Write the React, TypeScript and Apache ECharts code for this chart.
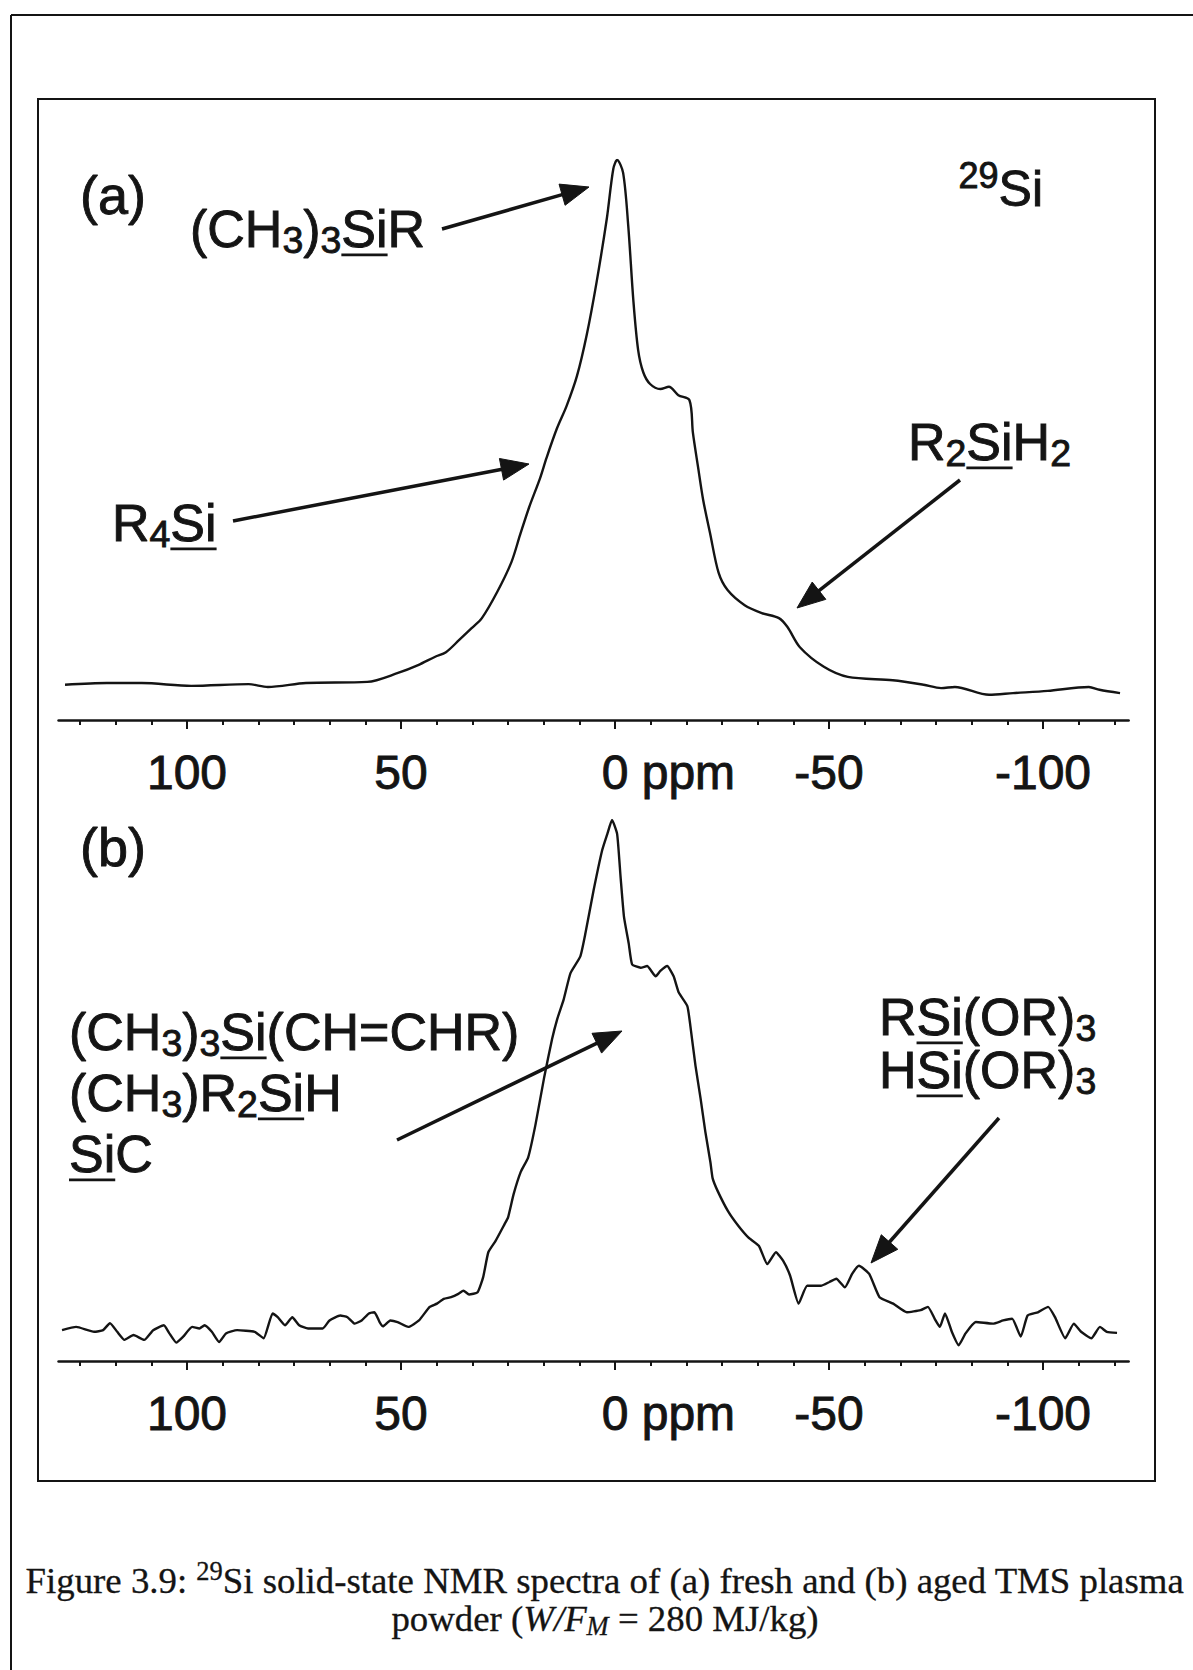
import React, { useEffect, useRef } from 'react';
import * as echarts from 'echarts';

// ---------- data ----------
const PPM_MIN = -120;
const PPM_MAX = 130;
const majorTicks = [100, 50, 0, -50, -100];
const minorTicks = [125, 116.67, 108.33, 91.67, 83.33, 75, 66.67, 58.33, 41.67, 33.33, 25, 16.67, 8.33,
  -8.33, -16.67, -25, -33.33, -41.67, -58.33, -66.67, -75, -83.33, -91.67, -108.33, -116.67];

// (a) fresh powder: chemical shift (ppm) and relative intensity
const ppmA = [128.5, 118.7, 110.6, 99.0, 85.6, 81.1, 72.2, 57.9, 50.7, 46.0, 42.0, 39.5, 36.4, 33.5, 31.1,
  27.5, 24.2, 22.2, 20.1, 17.5, 16.0, 13.6, 11.3, 8.9, 6.6, 4.3, 1.9, 0.4, -0.5, -1.9, -3.1, -4.3, -5.4,
  -6.6, -8.2, -10.6, -12.6, -14.8, -17.4, -18.2, -19.4, -20.6, -22.2, -24.2, -26.3, -30.3, -34.3, -38.3,
  -40.3, -43.2, -48.8, -54.4, -64.9, -72.1, -76.2, -79.4, -87.4, -93.0, -101.1, -110.7, -113.2, -118.0];
const intA = [6.3, 6.6, 6.6, 6.1, 6.4, 5.9, 6.6, 6.8, 8.4, 9.8, 11.3, 12.1, 14.3, 16.4, 18.2,
  22.9, 28.2, 33.0, 37.9, 43.2, 46.8, 52.0, 56.1, 61.4, 68.8, 78.2, 89.6, 98.4, 100, 97.7, 88.2, 74.8, 66.1,
  62.1, 60.0, 59.1, 59.5, 58.0, 57.1, 51.3, 45.2, 39.3, 33.4, 26.3, 23.2, 20.5, 19.1, 18.2,
  16.6, 13.0, 9.5, 7.7, 7.1, 6.3, 5.7, 5.9, 4.5, 4.8, 5.2, 5.9, 5.4, 4.8];

// (b) aged powder
const ppmB = [129.2, 125.9, 121.7, 119.6, 118.0, 116.3, 114.6, 112.5, 110.0, 107.9, 105.4, 104.2, 102.5,
  100.9, 98.8, 97.1, 95.9, 94.2, 92.5, 90.9, 88.3, 84.2, 82.1, 80.0, 78.8, 77.1, 75.4, 73.8, 71.7, 68.3,
  66.7, 64.2, 62.5, 60.8, 59.2, 57.5, 56.2, 55.0, 54.2, 52.5, 50.8, 48.3, 45.8, 43.3, 41.6, 40.0, 38.3,
  36.6, 35.4, 34.1, 32.1, 30.8, 29.6, 27.9, 25.8, 25.0, 23.7, 22.0, 20.3, 18.6, 16.6, 14.7, 13.5, 12.0,
  10.4, 8.1, 6.9, 5.0, 3.0, 1.8, 0.7, -0.5, -1.3, -2.1, -3.2, -4.0, -6.0, -7.5, -9.5, -10.6, -12.2, -13.7,
  -14.9, -16.9, -17.6, -18.8, -20.0, -21.1, -22.3, -22.8, -24.0, -26.4, -28.8, -31.2, -33.6, -35.6, -37.6,
  -39.3, -40.9, -42.9, -44.9, -48.1, -50.1, -51.7, -53.7, -55.4, -57.0, -59.4, -61.8, -65.0, -68.2, -71.4,
  -73.1, -74.7, -75.9, -77.1, -78.7, -80.3, -81.9, -84.3, -88.3, -90.7, -92.8, -94.8, -96.4, -98.8,
  -101.2, -102.8, -105.2, -107.2, -108.9, -111.3, -113.3, -114.9, -117.3];
const intB = [5.7, 6.3, 5.4, 5.7, 7.0, 5.4, 3.9, 4.8, 3.9, 5.7, 6.6, 5.2, 3.4,
  4.5, 6.3, 6.0, 6.6, 5.4, 3.5, 5.1, 5.7, 5.4, 4.2, 8.8, 8.1, 6.6, 8.1, 6.6, 6.0, 6.0,
  7.5, 8.4, 8.1, 6.9, 7.5, 8.8, 9.0, 7.2, 6.4, 7.5, 7.2, 6.3, 7.5, 10.0, 10.6, 11.5, 11.8,
  12.4, 13.0, 12.3, 12.7, 15.5, 20.1, 22.2, 25.3, 26.5, 30.8, 35.0, 37.6, 43.6, 52.2, 59.5, 63.2, 66.8,
  71.7, 74.8, 79.1, 87.0, 94.4, 97.4, 100, 97.4, 89.5, 82.1, 77.2, 73.3, 72.7, 73.0, 71.1, 72.1, 73.0, 71.1,
  68.1, 65.6, 62.0, 54.6, 48.5, 42.4, 36.7, 33.8, 31.4, 27.7, 25.0, 22.8, 21.3, 17.9, 20.1,
  18.5, 15.8, 10.6, 13.9, 13.9, 14.6, 15.2, 13.6, 16.1, 17.6, 16.1, 11.8, 10.6, 9.0, 9.4,
  10.0, 7.8, 6.3, 8.8, 5.4, 2.9, 5.1, 7.2, 6.9, 7.5, 7.8, 4.5, 8.4, 9.0,
  10.0, 8.1, 4.2, 6.9, 5.4, 4.2, 6.3, 5.4, 5.2];

// ---------- styling / layout ----------
const INK = '#141414';
const SANS = '"Liberation Sans", Arial, Helvetica, sans-serif';
const SERIF = '"Liberation Serif", "Times New Roman", serif';

type Seg = { t: string; k?: 'sub' | 'sup'; u?: boolean; i?: boolean };

let mctx: CanvasRenderingContext2D | null = null;
function measure(t: string, fs: number, fam: string, italic = false): number {
  if (!mctx) mctx = document.createElement('canvas').getContext('2d');
  mctx!.font = `${italic ? 'italic ' : ''}${fs}px ${fam}`;
  return mctx!.measureText(t).width;
}

function richText(x: number, base: number, segs: Seg[], fs: number, fam: string,
  anchor: 'left' | 'right' | 'center' = 'left', central = 0.3465, weight = 0.9): any[] {
  const items = segs.map((s) => {
    const size = s.k ? fs * 0.72 : fs;
    return { ...s, size, w: measure(s.t, size, fam, !!s.i) };
  });
  const total = items.reduce((a, b) => a + b.w, 0);
  let cx = anchor === 'left' ? x : anchor === 'right' ? x - total : x - total / 2;
  const els: any[] = [];
  for (const it of items) {
    const shift = it.k === 'sub' ? 0.12 * fs : it.k === 'sup' ? -0.36 * fs : 0;
    const trimmed = it.t.trimStart();
    const lead = it.t.length - trimmed.length;
    const lw = lead ? measure(it.t.slice(0, lead), it.size, fam, !!it.i) : 0;
    els.push({
      type: 'text',
      x: cx + lw,
      y: base + shift - central * it.size,
      silent: true,
      style: {
        text: trimmed,
        fill: INK,
        stroke: weight > 0 ? INK : undefined,
        lineWidth: weight,
        fontSize: it.size,
        fontFamily: fam,
        fontStyle: it.i ? 'italic' : 'normal',
        align: 'left',
        verticalAlign: 'middle',
        textAlign: 'left',
        textVerticalAlign: 'middle',
      },
    });
    if (it.u) {
      const uy = base + 0.15 * fs;
      els.push({ type: 'line', silent: true, shape: { x1: cx, y1: uy, x2: cx + it.w, y2: uy }, style: { stroke: INK, lineWidth: 2.8 } });
    }
    cx += it.w;
  }
  return els;
}

function arrow(x1: number, y1: number, x2: number, y2: number, headLen = 28, headW = 22, lw = 3.5): any[] {
  const dx = x2 - x1, dy = y2 - y1;
  const L = Math.hypot(dx, dy);
  const ux = dx / L, uy = dy / L;
  const nx = -uy, ny = ux;
  const bx = x2 - ux * headLen, by = y2 - uy * headLen;
  return [
    { type: 'line', silent: true, shape: { x1, y1, x2: bx + ux * 2, y2: by + uy * 2 }, style: { stroke: INK, lineWidth: lw } },
    {
      type: 'polygon', silent: true,
      shape: { points: [[x2, y2], [bx + nx * headW / 2, by + ny * headW / 2], [bx - nx * headW / 2, by - ny * headW / 2]] },
      style: { fill: INK, stroke: INK, lineWidth: 1 },
    },
  ];
}

export default function App() {
  const ref = useRef<HTMLDivElement>(null);

  useEffect(() => {
    if (!ref.current) return;
    const chart = echarts.init(ref.current, null, { renderer: 'svg' });

    const AX_FS = 48;
    const padW = measure(' ppm', AX_FS, SANS);
    const fmt = (v: number) => (Math.abs(v) < 1e-9 ? '{pad| }0 ppm' : String(v));

    const GL = 58.6, GW = 1070;
    const majorAxis = (g: number) => ({
      type: 'value', gridIndex: g, min: PPM_MIN, max: PPM_MAX, inverse: true, position: 'bottom',
      splitLine: { show: false },
      axisLine: { show: true, onZero: false, lineStyle: { color: INK, width: 2.6 } },
      axisTick: { show: true, customValues: majorTicks, length: 9, lineStyle: { color: INK, width: 2 } },
      axisLabel: {
        show: true, customValues: majorTicks, formatter: fmt, margin: 28,
        fontSize: AX_FS, fontFamily: SANS, color: INK,
        textBorderColor: INK, textBorderWidth: 0.9,
        rich: { pad: { width: padW, fontSize: AX_FS, fontFamily: SANS } },
      },
    });
    const minorAxis = (g: number) => ({
      type: 'value', gridIndex: g, min: PPM_MIN, max: PPM_MAX, inverse: true, position: 'bottom',
      splitLine: { show: false },
      axisLine: { show: false },
      axisTick: { show: true, customValues: minorTicks, length: 5, lineStyle: { color: INK, width: 2 } },
      axisLabel: { show: false },
    });

    const FS = 52;
    const graphics: any[] = [
      // frames
      { type: 'line', silent: true, shape: { x1: 11, y1: 15, x2: 1193, y2: 15 }, style: { stroke: INK, lineWidth: 2 } },
      { type: 'line', silent: true, shape: { x1: 11, y1: 15, x2: 11, y2: 1670 }, style: { stroke: INK, lineWidth: 2 } },
      { type: 'rect', silent: true, shape: { x: 38, y: 99, width: 1117, height: 1382 }, style: { fill: 'none', stroke: INK, lineWidth: 2 } },
      // panel (a)
      ...richText(80, 214, [{ t: '(a)' }], 54, SANS),
      ...richText(190, 247, [{ t: '(CH' }, { t: '3', k: 'sub' }, { t: ')' }, { t: '3', k: 'sub' }, { t: 'Si', u: true }, { t: 'R' }], FS, SANS),
      ...richText(1043, 206, [{ t: '29', k: 'sup' }, { t: 'Si' }], 50, SANS, 'right'),
      ...richText(112, 541, [{ t: 'R' }, { t: '4', k: 'sub' }, { t: 'Si', u: true }], FS, SANS),
      ...richText(908, 460, [{ t: 'R' }, { t: '2', k: 'sub' }, { t: 'Si', u: true }, { t: 'H' }, { t: '2', k: 'sub' }], FS, SANS),
      ...arrow(442, 229, 589, 187),
      ...arrow(233, 521, 529, 464),
      ...arrow(960, 480, 797, 608),
      // panel (b)
      ...richText(80, 866, [{ t: '(b)' }], 54, SANS),
      ...richText(69, 1050, [{ t: '(CH' }, { t: '3', k: 'sub' }, { t: ')' }, { t: '3', k: 'sub' }, { t: 'Si', u: true }, { t: '(CH=CHR)' }], FS, SANS),
      ...richText(69, 1111, [{ t: '(CH' }, { t: '3', k: 'sub' }, { t: ')R' }, { t: '2', k: 'sub' }, { t: 'Si', u: true }, { t: 'H' }], FS, SANS),
      ...richText(69, 1172, [{ t: 'Si', u: true }, { t: 'C' }], FS, SANS),
      ...richText(879, 1035, [{ t: 'R' }, { t: 'Si', u: true }, { t: '(OR)' }, { t: '3', k: 'sub' }], FS, SANS),
      ...richText(879, 1088, [{ t: 'H' }, { t: 'Si', u: true }, { t: '(OR)' }, { t: '3', k: 'sub' }], FS, SANS),
      ...arrow(397, 1140, 622, 1031),
      ...arrow(999, 1118, 871, 1263),
      // caption
      ...richText(605, 1593, [
        { t: 'Figure 3.9: ' }, { t: '29', k: 'sup' },
        { t: 'Si solid-state NMR spectra of (a) fresh and (b) aged TMS plasma' },
      ], 36.8, SERIF, 'center', 0.3375, 0.3),
      ...richText(605, 1631, [
        { t: 'powder (' }, { t: 'W/F', i: true }, { t: 'M', k: 'sub', i: true }, { t: ' = 280 MJ/kg)' },
      ], 36.8, SERIF, 'center', 0.3375, 0.3),
    ];

    chart.setOption({
      animation: false,
      backgroundColor: '#ffffff',
      grid: [
        { left: GL, width: GW, top: 160, height: 560 },
        { left: GL, width: GW, top: 820, height: 541 },
      ],
      xAxis: [majorAxis(0), minorAxis(0), majorAxis(1), minorAxis(1)],
      yAxis: [
        { type: 'value', gridIndex: 0, min: 0, max: 100, show: false },
        { type: 'value', gridIndex: 1, min: 0, max: 100, show: false },
      ],
      series: [
        {
          name: '(a) fresh', type: 'line', xAxisIndex: 0, yAxisIndex: 0,
          data: ppmA.map((p, i) => [p, intA[i]]),
          showSymbol: false, smooth: 0.3, lineStyle: { color: INK, width: 2.4 },
        },
        {
          name: '(b) aged', type: 'line', xAxisIndex: 2, yAxisIndex: 1,
          data: ppmB.map((p, i) => [p, intB[i]]),
          showSymbol: false, smooth: 0.15, lineStyle: { color: INK, width: 2.4 },
        },
      ],
      graphic: graphics,
    });

    return () => chart.dispose();
  }, []);

  return (
    <div
      ref={ref}
      style={{ position: 'absolute', left: 0, top: 0, width: 1193, height: 1670, background: '#fff' }}
    />
  );
}
